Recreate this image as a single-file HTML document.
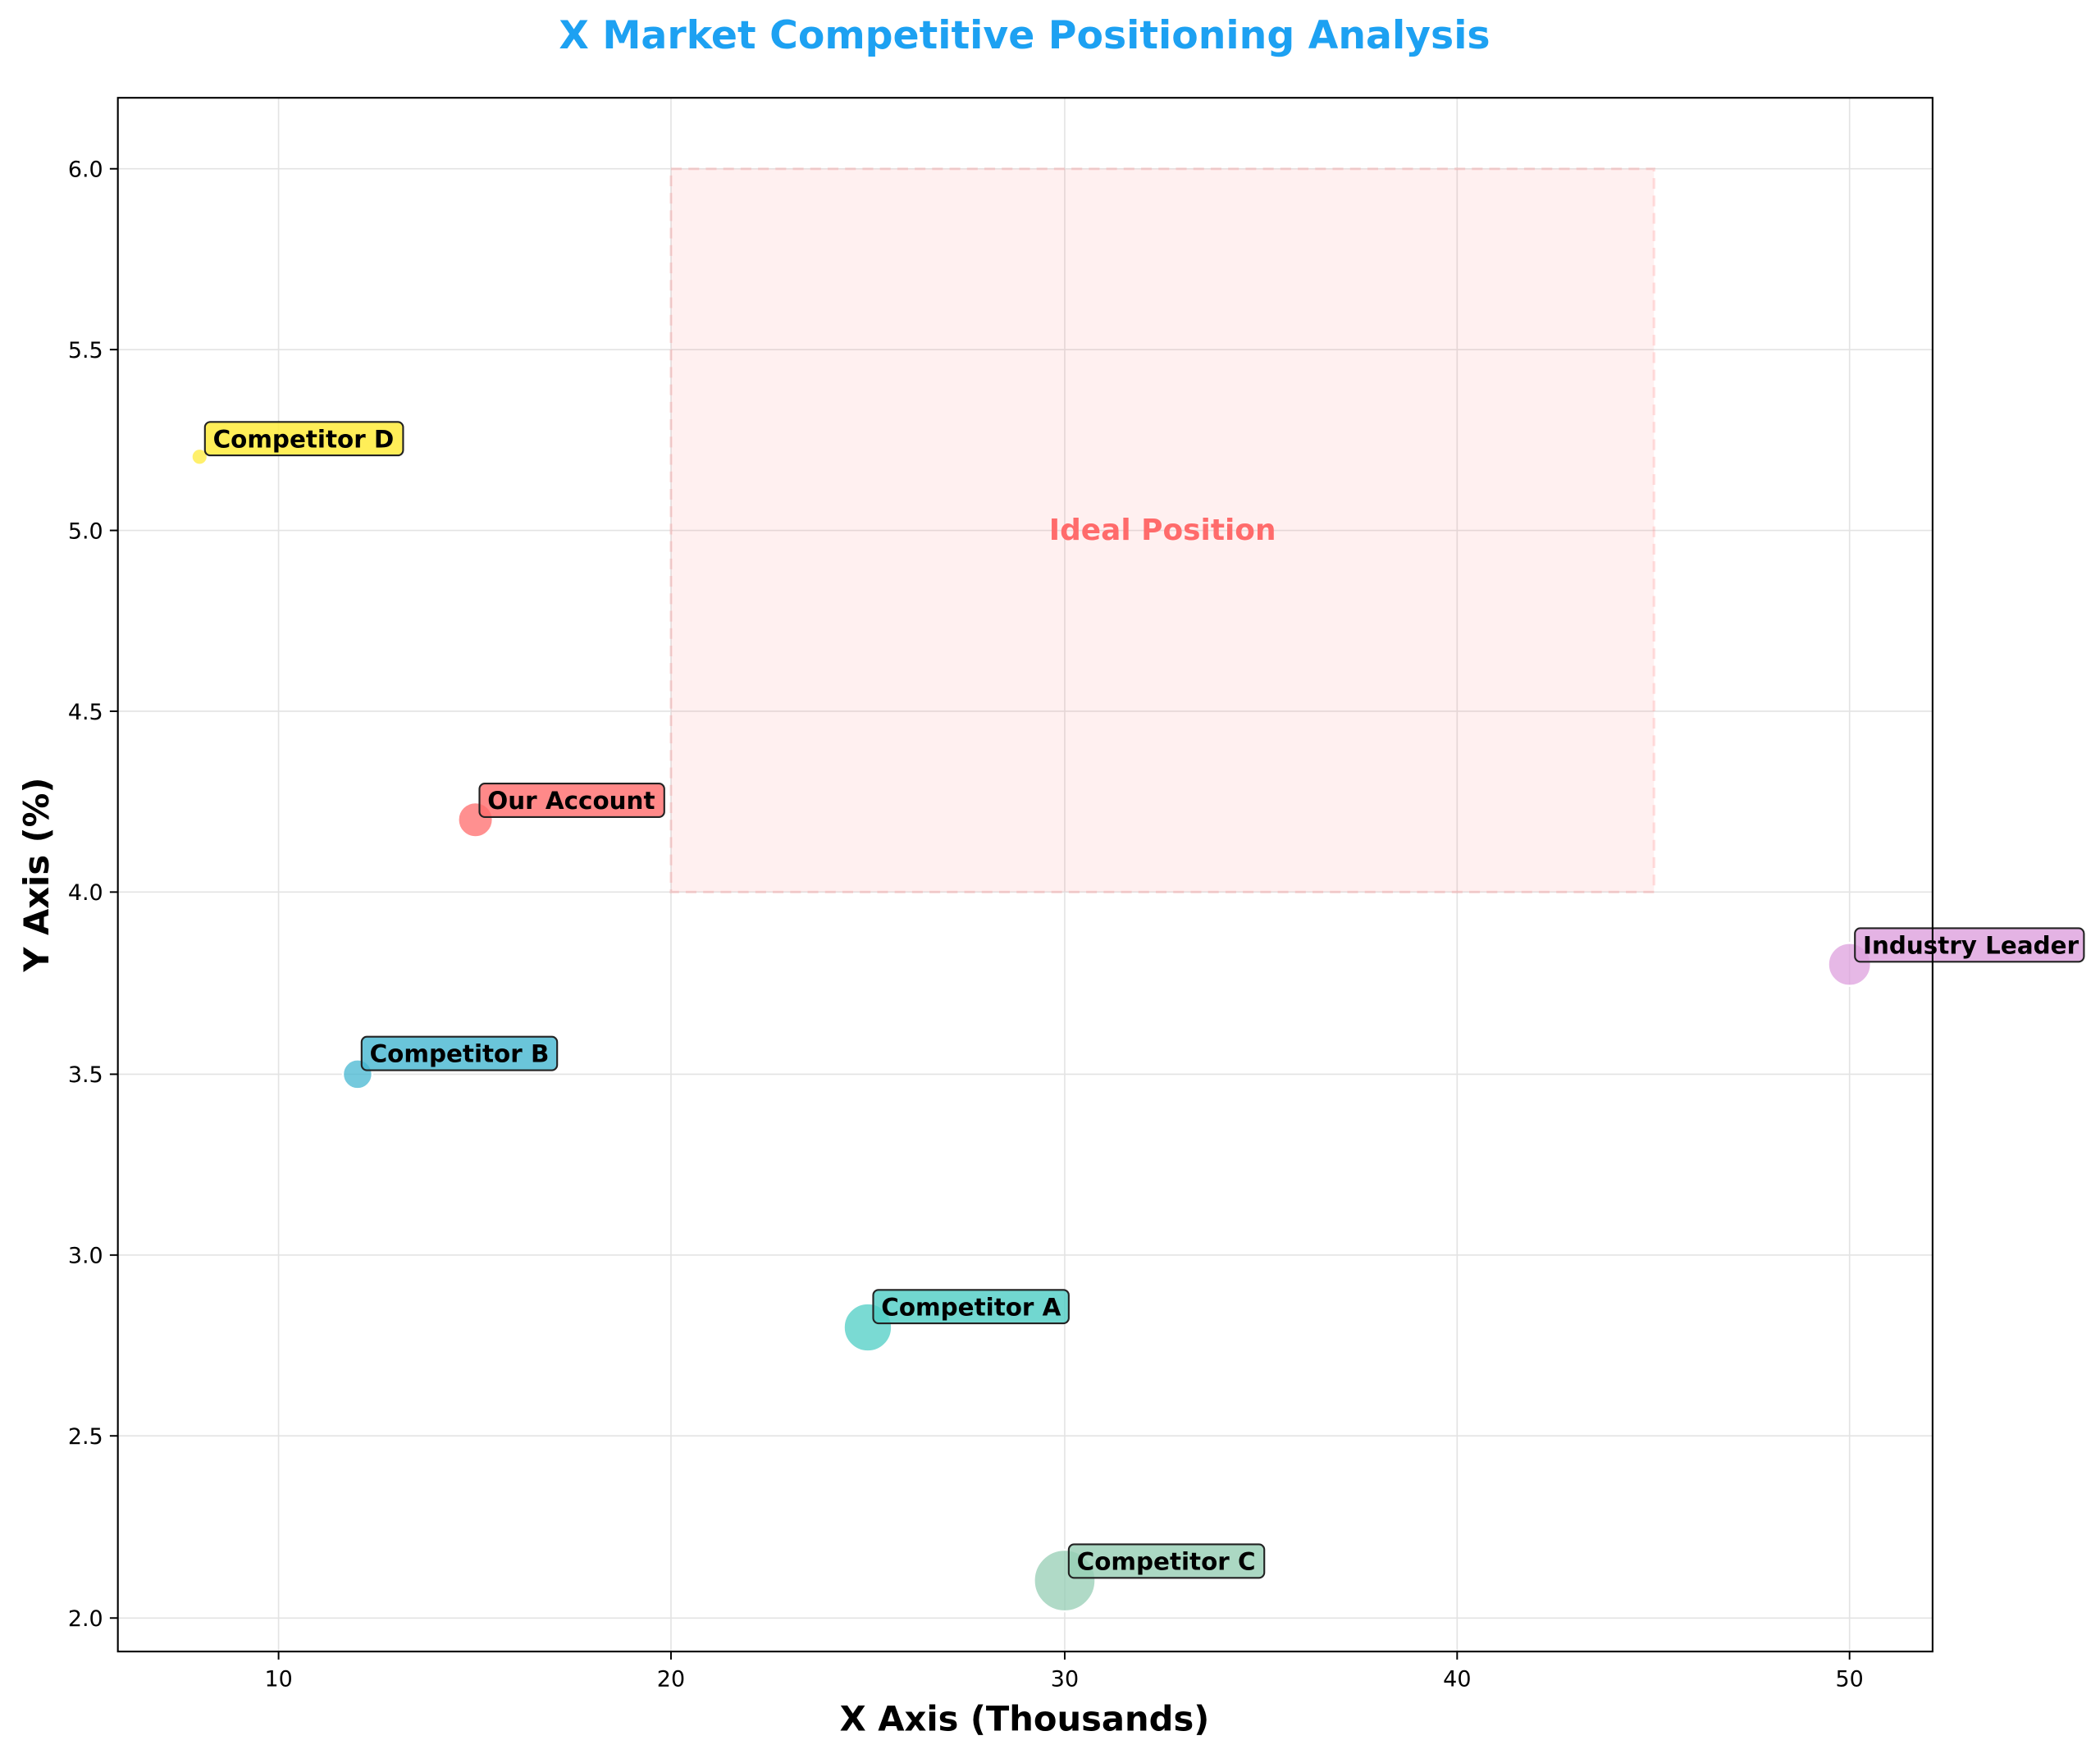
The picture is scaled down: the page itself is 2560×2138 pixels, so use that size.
<!DOCTYPE html>
<html><head><style>html,body{margin:0;padding:0;background:#fff}svg{display:block}</style></head><body>
<svg width="2560" height="2138" viewBox="0 0 1568 1309.5" xmlns="http://www.w3.org/2000/svg" font-family="DejaVu Sans, Liberation Sans, sans-serif">
<rect width="1568" height="1310" fill="#fff"/>
<text x="765" y="36" text-anchor="middle" font-size="29" font-weight="bold" fill="#1DA1F2">X Market Competitive Positioning Analysis</text>
<g stroke="#e3e3e3" stroke-width="1">
<line x1="208" y1="73" x2="208" y2="1233"/><line x1="501" y1="73" x2="501" y2="1233"/><line x1="795" y1="73" x2="795" y2="1233"/><line x1="1088" y1="73" x2="1088" y2="1233"/><line x1="1381" y1="73" x2="1381" y2="1233"/>
<line x1="88" y1="126" x2="1443" y2="126"/><line x1="88" y1="261" x2="1443" y2="261"/><line x1="88" y1="396" x2="1443" y2="396"/><line x1="88" y1="531" x2="1443" y2="531"/><line x1="88" y1="666" x2="1443" y2="666"/><line x1="88" y1="802" x2="1443" y2="802"/><line x1="88" y1="937" x2="1443" y2="937"/><line x1="88" y1="1072" x2="1443" y2="1072"/><line x1="88" y1="1208" x2="1443" y2="1208"/>
</g>
<rect x="501" y="126" width="734" height="540" fill="#FF6B6B" fill-opacity="0.1" stroke="#FF6B6B" stroke-opacity="0.2" stroke-width="2" stroke-dasharray="8,5"/>
<text x="868" y="403" text-anchor="middle" font-size="22" font-weight="bold" fill="#FF6B6B">Ideal Position</text>
<g fill-opacity="0.75" stroke="#fff" stroke-width="1.5">
<circle cx="149" cy="341" r="6" fill="#FFEB3B"/>
<circle cx="355" cy="612" r="13" fill="#FF6B6B"/>
<circle cx="267" cy="802" r="11" fill="#45B7D1"/>
<circle cx="648" cy="991" r="18" fill="#4ECDC4"/>
<circle cx="795" cy="1180" r="23" fill="#96CEB4"/>
<circle cx="1381" cy="720" r="16" fill="#DDA0DD"/>
</g>
<g font-size="18" font-weight="bold" fill="#000" stroke-width="1.3">
<rect x="153" y="315" width="148" height="25" rx="4" fill="#FFEB3B" fill-opacity="0.85" stroke="#222"/><text x="159" y="334">Competitor D</text>
<rect x="358" y="585" width="138" height="25" rx="4" fill="#FF6B6B" fill-opacity="0.8" stroke="#222"/><text x="364" y="604">Our Account</text>
<rect x="270" y="774" width="146" height="25" rx="4" fill="#45B7D1" fill-opacity="0.8" stroke="#222"/><text x="276" y="793">Competitor B</text>
<rect x="652" y="963" width="146" height="25" rx="4" fill="#4ECDC4" fill-opacity="0.8" stroke="#222"/><text x="658" y="982">Competitor A</text>
<rect x="798" y="1153" width="146" height="25" rx="4" fill="#96CEB4" fill-opacity="0.8" stroke="#222"/><text x="804" y="1172">Competitor C</text>
<rect x="1385" y="693" width="171" height="25" rx="4" fill="#DDA0DD" fill-opacity="0.8" stroke="#222"/><text x="1391" y="712">Industry Leader</text>
</g>
<rect x="88" y="73" width="1355" height="1160" fill="none" stroke="#000" stroke-width="1.3"/>
<g stroke="#000" stroke-width="1.2">
<line x1="208" y1="1233" x2="208" y2="1239"/><line x1="501" y1="1233" x2="501" y2="1239"/><line x1="795" y1="1233" x2="795" y2="1239"/><line x1="1088" y1="1233" x2="1088" y2="1239"/><line x1="1381" y1="1233" x2="1381" y2="1239"/>
<line x1="82" y1="126" x2="88" y2="126"/><line x1="82" y1="261" x2="88" y2="261"/><line x1="82" y1="396" x2="88" y2="396"/><line x1="82" y1="531" x2="88" y2="531"/><line x1="82" y1="666" x2="88" y2="666"/><line x1="82" y1="802" x2="88" y2="802"/><line x1="82" y1="937" x2="88" y2="937"/><line x1="82" y1="1072" x2="88" y2="1072"/><line x1="82" y1="1208" x2="88" y2="1208"/>
</g>
<g font-size="16.5" fill="#000" text-anchor="middle">
<text x="208" y="1259">10</text><text x="501" y="1259">20</text><text x="795" y="1259">30</text><text x="1088" y="1259">40</text><text x="1381" y="1259">50</text>
</g>
<g font-size="16.5" fill="#000" text-anchor="end">
<text x="77" y="132">6.0</text><text x="77" y="267">5.5</text><text x="77" y="402">5.0</text><text x="77" y="537">4.5</text><text x="77" y="672">4.0</text><text x="77" y="808">3.5</text><text x="77" y="943">3.0</text><text x="77" y="1078">2.5</text><text x="77" y="1214">2.0</text>
</g>
<text x="765" y="1292" text-anchor="middle" font-size="25.5" font-weight="bold">X Axis (Thousands)</text>
<text transform="translate(36,653) rotate(-90)" text-anchor="middle" font-size="25.5" font-weight="bold">Y Axis (%)</text>
</svg>
</body></html>
